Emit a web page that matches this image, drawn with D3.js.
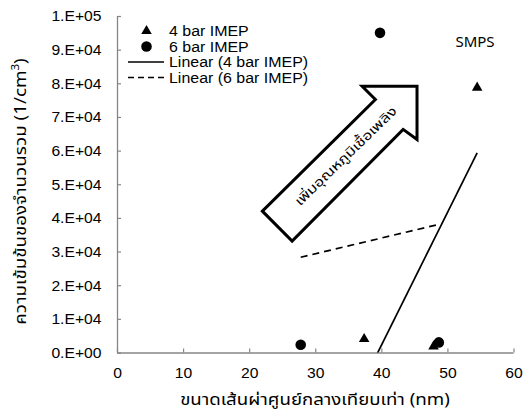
<!DOCTYPE html>
<html>
<head>
<meta charset="utf-8">
<script src="https://cdn.jsdelivr.net/npm/d3@7"></script>
<style>
  body { margin: 0; background: #fff; }
  svg { display: block; font-family: "Liberation Sans", Arial, sans-serif; }
  .thai { font-family: "Noto Sans Thai", "Tahoma", "Noto Sans", "DejaVu Sans", sans-serif; }
</style>
</head>
<body>
<div id="chart"></div>
<script>
// SMPS number concentration vs geometric mean diameter
const imep4X = [37.4, 47.9, 54.5];
const imep4Y = [4000, 1800, 78700];
const imep6X = [27.8, 39.8, 48.7];
const imep6Y = [2300, 95000, 3000];

const xTicks = [0, 10, 20, 30, 40, 50, 60];
const yTicks = [0, 1e4, 2e4, 3e4, 4e4, 5e4, 6e4, 7e4, 8e4, 9e4, 1e5];

const legendLabels = ["4 bar IMEP", "6 bar IMEP", "Linear (4 bar IMEP)", "Linear (6 bar IMEP)"];

// block arrow annotation, in data units
const arrowX = [22.0, 39.1, 37.1, 45.4, 45.4, 43.3, 26.5];
const arrowY = [42000, 75200, 79100, 79100, 63300, 66300, 33100];
const arrowText = "เพิ่มอุณหภูมิเชื้อเพลิง";

const width = 523, height = 412;
const margin = { top: 16, right: 9.5, bottom: 59.5, left: 117 };

const svg = d3.select("#chart").append("svg")
  .attr("width", width)
  .attr("height", height);

const x = d3.scaleLinear().domain([0, 60]).range([margin.left, width - margin.right]);
const y = d3.scaleLinear().domain([0, 1e5]).range([height - margin.bottom, margin.top]);

// least squares trend line over the series x range
function trend(xs, ys) {
  const mx = d3.mean(xs), my = d3.mean(ys);
  const sxy = d3.sum(xs, (v, i) => (v - mx) * (ys[i] - my));
  const sxx = d3.sum(xs, v => (v - mx) * (v - mx));
  const b = sxy / sxx, a = my - b * mx;
  const x0 = d3.min(xs), x1 = d3.max(xs);
  return [[x0, a + b * x0], [x1, a + b * x1]];
}

function fmtExp(d) {
  if (d === 0) return "0.E+00";
  const e = Math.floor(Math.log10(d));
  const m = Math.round(d / Math.pow(10, e));
  return m + ".E+" + String(e).padStart(2, "0");
}

// stretch a text horizontally (in its own frame) to a target length
function fitWidth(sel, target, base) {
  const w = sel.node().getBBox().width;
  sel.attr("transform", `${base} scale(${target / w},1)`);
}

svg.append("clipPath").attr("id", "plot-clip")
  .append("rect")
  .attr("x", margin.left)
  .attr("y", margin.top)
  .attr("width", width - margin.left - margin.right)
  .attr("height", height - margin.top - margin.bottom);

// axes
const xAxis = d3.axisBottom(x).tickValues(xTicks).tickSize(-4);
const yAxis = d3.axisLeft(y).tickValues(yTicks).tickSize(-4).tickFormat(fmtExp);

const gx = svg.append("g")
  .attr("transform", `translate(0,${height - margin.bottom})`)
  .call(xAxis);
const gy = svg.append("g")
  .attr("transform", `translate(${margin.left},0)`)
  .call(yAxis);

[gx, gy].forEach(g => {
  g.select(".domain").attr("stroke", "#868686").attr("stroke-width", 1.3);
  g.selectAll(".tick line").attr("stroke", "#868686").attr("stroke-width", 1.2);
  g.selectAll(".tick text").attr("font-size", 14).attr("fill", "#000")
    .attr("font-family", "Liberation Sans, Arial, sans-serif");
});
gy.select(".domain").attr("d", `M0.5,${y(1e5)}V${y(0)}`);
gx.select(".domain").attr("d", `M${x(0)},0.5H${x(60)}`);

gy.selectAll(".tick text")
  .attr("x", 0).attr("dy", "0.35em")
  .attr("transform", "translate(-15.5,0) scale(1.12,1)");
gx.selectAll(".tick text")
  .attr("y", 0).attr("dy", 0)
  .attr("transform", "translate(0,25.5) scale(1.12,1)");

// trend lines
const plot = svg.append("g").attr("clip-path", "url(#plot-clip)");
const line = d3.line().x(d => x(d[0])).y(d => y(d[1]));

plot.append("path")
  .attr("d", line(trend(imep4X, imep4Y)))
  .attr("fill", "none").attr("stroke", "#000").attr("stroke-width", 1.7);
plot.append("path")
  .attr("d", line(trend(imep6X, imep6Y)))
  .attr("fill", "none").attr("stroke", "#000").attr("stroke-width", 1.7)
  .attr("stroke-dasharray", "7,5");

// markers
const tri = d3.symbol().type(d3.symbolTriangle).size(48);
svg.append("g").selectAll("path")
  .data(imep4X.map((v, i) => [v, imep4Y[i]]))
  .join("path")
  .attr("d", tri)
  .attr("transform", d => `translate(${x(d[0])},${y(d[1])})`)
  .attr("fill", "#000");

svg.append("g").selectAll("circle")
  .data(imep6X.map((v, i) => [v, imep6Y[i]]))
  .join("circle")
  .attr("cx", d => x(d[0]))
  .attr("cy", d => y(d[1]))
  .attr("r", 5.3)
  .attr("fill", "#000");

// block arrow
const arrowPts = arrowX.map((v, i) => [x(v), y(arrowY[i])]);
svg.append("polygon")
  .attr("points", arrowPts.map(p => p.join(",")).join(" "))
  .attr("fill", "#fff")
  .attr("stroke", "#000")
  .attr("stroke-width", 3)
  .attr("stroke-linejoin", "miter");

const arrowLabel = svg.append("text")
  .attr("class", "thai")
  .attr("text-anchor", "middle")
  .attr("dy", "0.35em")
  .attr("font-size", 13)
  .text(arrowText);
fitWidth(arrowLabel, 136, `translate(${x(34.6)},${y(58400)}) rotate(-44)`);

// SMPS label
svg.append("text")
  .attr("x", 475)
  .attr("y", 47)
  .attr("text-anchor", "middle")
  .attr("font-family", "Noto Sans, sans-serif")
  .attr("font-size", 15)
  .text("SMPS");

// legend
const legend = svg.append("g").attr("transform", "translate(128,31)");
const rowH = 15.5;
legendLabels.forEach((label, i) => {
  const row = legend.append("g").attr("transform", `translate(0,${i * rowH})`);
  if (i === 0) {
    row.append("path").attr("d", tri).attr("transform", "translate(18.5,0)").attr("fill", "#000");
  } else if (i === 1) {
    row.append("circle").attr("cx", 18.5).attr("r", 5.3).attr("fill", "#000");
  } else {
    row.append("line").attr("x1", 0).attr("x2", 36).attr("y1", 0).attr("y2", 0)
      .attr("stroke", "#000").attr("stroke-width", 1.7)
      .attr("stroke-dasharray", i === 3 ? "6,4" : null);
  }
  row.append("text")
    .attr("dy", "0.36em")
    .attr("font-size", 14.5)
    .attr("transform", "translate(41,0) scale(1.1,1)")
    .text(label);
});

// axis titles
const xTitle = svg.append("text")
  .attr("class", "thai")
  .attr("text-anchor", "middle")
  .attr("font-size", 16)
  .text("ขนาดเส้นผ่าศูนย์กลางเทียบเท่า (nm)");
fitWidth(xTitle, 270, "translate(315,405)");

const yTitle = svg.append("text")
  .attr("class", "thai")
  .attr("text-anchor", "middle")
  .attr("font-size", 16);
yTitle.append("tspan").text("ความเข้มข้นของจำนวนรวม (1/cm");
yTitle.append("tspan").attr("font-size", 10).attr("dy", -7).text("3");
yTitle.append("tspan").attr("dy", 7).text(")");
fitWidth(yTitle, 267, "translate(26,191.5) rotate(-90)");
</script>
</body>
</html>
